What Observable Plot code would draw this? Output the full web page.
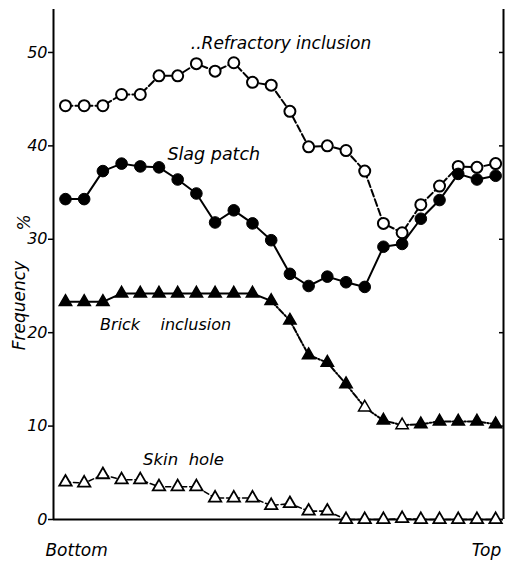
<!DOCTYPE html>
<html>
<head>
<meta charset="utf-8">
<script src="https://cdn.jsdelivr.net/npm/d3@7"></script>
<script src="https://cdn.jsdelivr.net/npm/@observablehq/plot@0.6"></script>
<style>
  html, body { margin: 0; padding: 0; background: #fff; }
  #chart svg { display: block; font-family: "DejaVu Sans", sans-serif; }
</style>
</head>
<body>
<div id="chart"></div>
<script>
// Positions from bottom (0) to top (23) of the ingot
const positions = d3.range(24);
const refractory = [44.3, 44.3, 44.3, 45.5, 45.5, 47.5, 47.5, 48.8, 48.0, 48.9, 46.8, 46.5,
  43.7, 39.9, 40.0, 39.5, 37.3, 31.7, 30.7, 33.7, 35.7, 37.8, 37.7, 38.1];
const slag = [34.3, 34.3, 37.3, 38.1, 37.8, 37.7, 36.4, 34.9, 31.8, 33.1, 31.7, 29.9,
  26.3, 25.0, 26.0, 25.4, 24.9, 29.2, 29.5, 32.2, 34.2, 37.0, 36.4, 36.8];
const brick = [23.3, 23.3, 23.3, 24.2, 24.2, 24.2, 24.2, 24.2, 24.2, 24.2, 24.2, 23.4,
  21.3, 17.6, 16.8, 14.5, 12.0, 10.6, 10.1, 10.2, 10.5, 10.5, 10.5, 10.2];
const brickOpen = [16, 18];
const skin = [4.0, 3.9, 4.8, 4.25, 4.25, 3.5, 3.5, 3.5, 2.3, 2.3, 2.3, 1.5,
  1.7, 0.9, 0.9, 0, 0, 0, 0.1, 0, 0, 0, 0, 0];
const yTicks = [0, 10, 20, 30, 40, 50];
const seriesLabels = [
  {name: "..Refractory inclusion", x: 6.7, y: 51.0, size: 17},
  {name: "Slag patch", x: 5.45, y: 39.1, size: 17.5},
  {name: "Brick    inclusion", x: 1.85, y: 20.8, size: 16},
  {name: "Skin  hole", x: 4.15, y: 6.4, size: 16.5}
];
const bottomLabel = [{name: "Bottom", x: -1.07, y: -3.3}];
const topLabel = [{name: "Top", x: 23.3, y: -3.3}];

const xDomain = [-0.64, 23.42];
const rows = (vals) => positions.map((p, i) => ({x: p, y: vals[i], i}));
const refRows = rows(refractory);
const slagRows = rows(slag);
const brickRows = rows(brick);
const skinRows = rows(skin);

const font = {fontFamily: "DejaVu Sans", fontStyle: "italic"};

const chart = Plot.plot({
  width: 506,
  height: 565,
  marginLeft: 53,
  marginRight: 3,
  marginTop: 9,
  marginBottom: 46,
  style: {fontFamily: "DejaVu Sans", background: "white"},
  x: {domain: xDomain, axis: null},
  y: {domain: [0, 54.6], axis: null},
  marks: [
    // frame
    Plot.ruleX([xDomain[0], xDomain[1]], {stroke: "black", strokeWidth: 2}),
    Plot.ruleY([0], {stroke: "black", strokeWidth: 2}),
    Plot.axisY({anchor: "left", ticks: yTicks, tickSize: 5, tickPadding: 1, label: null,
      fontSize: 16, fontStyle: "italic", strokeWidth: 1.5}),
    Plot.axisY({anchor: "right", ticks: yTicks.filter(d => d > 0), tickSize: -5, label: null,
      tickFormat: () => "", strokeWidth: 1.5}),
    // lines
    Plot.line(refRows, {x: "x", y: "y", stroke: "black", strokeWidth: 2, strokeDasharray: "7,3"}),
    Plot.line(slagRows, {x: "x", y: "y", stroke: "black", strokeWidth: 2}),
    Plot.line(brickRows.filter(d => d.i <= 11), {x: "x", y: "y", stroke: "black", strokeWidth: 2}),
    Plot.line(brickRows.filter(d => d.i >= 11), {x: "x", y: "y", stroke: "black", strokeWidth: 2, strokeDasharray: "6,2,1.5,2"}),
    Plot.line(skinRows, {x: "x", y: "y", stroke: "black", strokeWidth: 1.6, strokeDasharray: "5,3"}),
    // markers
    Plot.dot(refRows, {x: "x", y: "y", r: 5.5, fill: "white", stroke: "black", strokeWidth: 2}),
    Plot.dot(slagRows, {x: "x", y: "y", r: 5.8, fill: "black", stroke: "black", strokeWidth: 1}),
    Plot.dot(brickRows, {x: "x", y: "y", r: 4.6, symbol: "triangle",
      fill: d => brickOpen.includes(d.i) ? "white" : "black", stroke: "black", strokeWidth: 1.5}),
    Plot.dot(skinRows, {x: "x", y: "y", r: 4.6, symbol: "triangle", fill: "white", stroke: "black", strokeWidth: 1.8}),
    // labels
    Plot.text(seriesLabels, {x: "x", y: "y", text: "name", textAnchor: "start", fontSize: d => d.size, ...font, fill: "black"}),
    Plot.text(bottomLabel, {x: "x", y: "y", text: "name", textAnchor: "start", fontSize: 17, ...font, fill: "black"}),
    Plot.text(topLabel, {x: "x", y: "y", text: "name", textAnchor: "end", fontSize: 17, ...font, fill: "black"}),
    Plot.text(["Frequency"], {x: -2.45, y: 22.9, text: d => d, rotate: -90, fontSize: 17, ...font, fill: "black"}),
    Plot.text(["%"], {x: -2.2, y: 31.8, text: d => d, rotate: -90, fontSize: 17, ...font, fill: "black"})
  ]
});
document.getElementById("chart").appendChild(chart);
</script>
</body>
</html>
